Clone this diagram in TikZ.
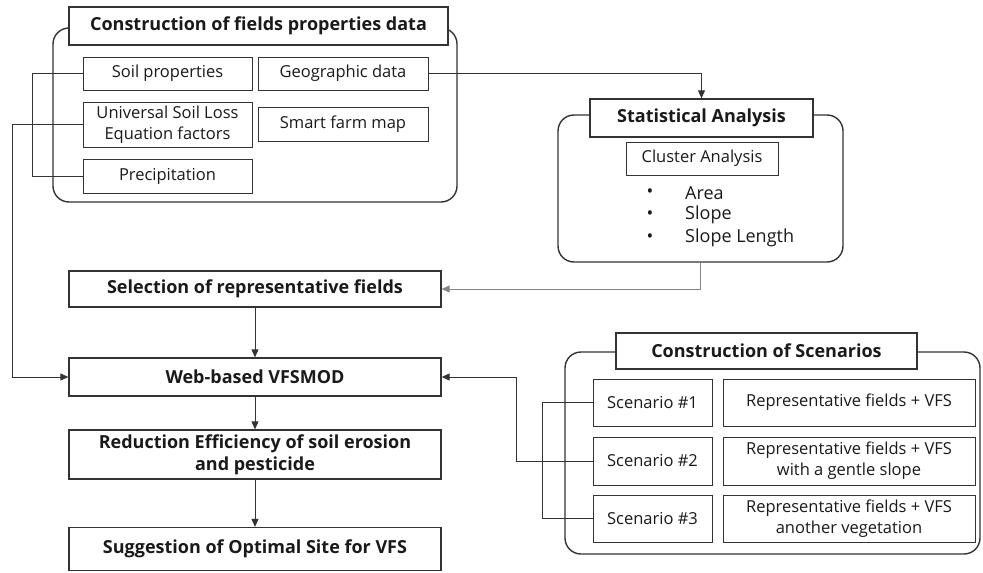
\documentclass[tikz,border=0pt]{standalone}
\usepackage{fontspec}
\setmainfont{Open Sans}
\usetikzlibrary{arrows.meta}
\definecolor{ln}{HTML}{333333}
\definecolor{tx}{HTML}{1A1A1A}
\tikzset{
  bx/.style={draw=ln, line width=1.3pt, fill=white, inner sep=0pt, align=center, text=tx, font=\fontsize{16.5}{21}\selectfont},
  sbx/.style={draw=ln, line width=0.9pt, fill=white, inner sep=0pt, align=center, text=tx, font=\fontsize{16.5}{21}\selectfont},
  ttl/.style={bx, font=\bfseries\fontsize{18}{22}\selectfont},
  grp/.style={draw=ln, line width=1.4pt, rounded corners=16pt, inner sep=0pt},
  con/.style={draw=ln, line width=0.9pt},
  arr/.style={con, -{Triangle[length=8pt,width=7pt]}},
  blt/.style={text=tx, font=\fontsize{18}{20}\selectfont, inner sep=0pt},
}
\begin{document}
\begin{tikzpicture}[x=1pt,y=-1pt]
\useasboundingbox (0,0) rectangle (983,573);
% group 1
\node[grp, minimum width=404, minimum height=174] (cont1) at (255,115) {};
\node[ttl, minimum width=379, minimum height=38] (t1) at (258.5,26) {Construction of fields properties data};
\node[sbx, minimum width=169, minimum height=33] (soil) at (167.5,73.5) {Soil properties};
\node[sbx, minimum width=170, minimum height=33] (geo) at (343,73.5) {Geographic data};
\node[sbx, minimum width=169, minimum height=45] (usle) at (167.5,124.5) {Universal Soil Loss\\Equation factors};
\node[sbx, minimum width=170, minimum height=34] (smart) at (343,124) {Smart farm map};
\node[sbx, minimum width=169, minimum height=34] (precip) at (167.5,176) {Precipitation};
% group 2
\node[grp, minimum width=285, minimum height=147] (cont2) at (700.5,188.5) {};
\node[ttl, minimum width=223, minimum height=38] (t2) at (701.5,118) {Statistical Analysis};
\node[sbx, minimum width=152, minimum height=33] (cluster) at (702,158.5) {Cluster Analysis};
\foreach \yy/\tt/\nm in {193/Area/b1, 215/Slope/b2, 238/Slope Length/b3}{
  \node[blt] (\nm d) at (650,\yy) {•};
  \node[blt, anchor=west] (\nm) at (685,\yy) {\tt};
}
% main flow
\node[ttl, minimum width=372, minimum height=36] (sel) at (255,289) {Selection of representative fields};
\node[ttl, minimum width=372, minimum height=38] (web) at (255,377) {Web-based VFSMOD};
\node[ttl, minimum width=372, minimum height=49] (red) at (255,454.5) {Reduction Efficiency of soil erosion\\and pesticide};
\node[ttl, minimum width=372, minimum height=43] (sug) at (255,549) {Suggestion of Optimal Site for VFS};
% group 3
\node[grp, minimum width=415, minimum height=202] (cont3) at (772.5,453) {};
\node[ttl, minimum width=301, minimum height=36] (t3) at (766.5,351) {Construction of Scenarios};
\node[sbx, minimum width=119, minimum height=47] (s1) at (652.5,402.5) {Scenario \#1};
\node[sbx, minimum width=119, minimum height=48] (s2) at (652.5,461) {Scenario \#2};
\node[sbx, minimum width=119, minimum height=47] (s3) at (652.5,518.5) {Scenario \#3};
\node[sbx, minimum width=252, minimum height=47] (r1) at (849,402.5) {Representative fields + VFS};
\node[sbx, minimum width=252, minimum height=48] (r2) at (849,461) {Representative fields + VFS\\with a gentle slope};
\node[sbx, minimum width=252, minimum height=47] (r3) at (849,518.5) {Representative fields + VFS\\another vegetation};
% connectors
\coordinate (k1) at (12,0);
\draw[con] (soil.west) -- ++(-50,0) |- (precip.west);
\draw[arr] (usle.west) -- (usle.west -| k1) |- (web.west);
\draw[arr] (geo.east) -| (t2.north);
\draw[arr, draw=ln!60] (cont2.south) |- (sel.east);
\draw[arr] (sel.south) -- (web.north);
\draw[arr] (web.south) -- (red.north);
\draw[arr] (red.south) -- (sug.north);
\draw[con] (s1.west) -- ++(-50,0) |- (s3.west);
\draw[arr] (s2.west) -- ++(-76,0) |- (web.east);
\end{tikzpicture}
\end{document}
